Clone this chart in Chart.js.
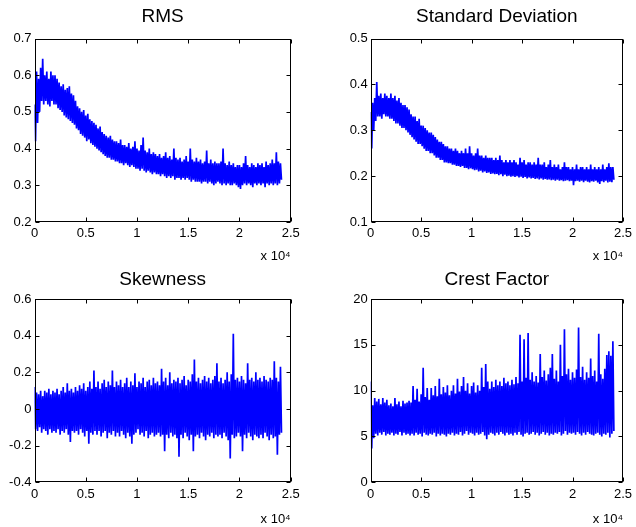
<!DOCTYPE html>
<html lang="en">
<head>
<meta charset="UTF-8">
<title>RMS / Standard Deviation / Skewness / Crest Factor</title>
<script src="https://cdn.jsdelivr.net/npm/chart.js"></script>
<style>
  body { margin: 0; background: #fff; }
  .fig { position: relative; width: 636px; height: 527px; }
  .fig canvas { position: absolute; }
</style>
</head>
<body>
<div class="fig">
  <canvas id="c-rms"  width="318" height="264" style="left:0;top:0"></canvas>
  <canvas id="c-std"  width="318" height="264" style="left:318px;top:0"></canvas>
  <canvas id="c-skew" width="318" height="263" style="left:0;top:264px"></canvas>
  <canvas id="c-crest" width="318" height="263" style="left:318px;top:264px"></canvas>
</div>
<script>
// sample spacing: each pair is (upper value at i*STEP, lower value at i*STEP + STEP/2)
const STEP = 200;
const xTicksLabel = 'x 10\u2074';

// RMS
const rmsHi = [0.52, 0.61, 0.59, 0.62, 0.645, 0.60, 0.61, 0.59, 0.61, 0.60,
  0.60, 0.59, 0.58, 0.57, 0.575, 0.56, 0.565, 0.57, 0.55, 0.545,
  0.53, 0.515, 0.51, 0.50, 0.505, 0.49, 0.495, 0.48, 0.475, 0.47,
  0.465, 0.455, 0.46, 0.445, 0.44, 0.435, 0.43, 0.435, 0.425, 0.42,
  0.42, 0.415, 0.425, 0.41, 0.41, 0.405, 0.415, 0.40, 0.405, 0.42,
  0.40, 0.395, 0.41, 0.43, 0.395, 0.39, 0.40, 0.385, 0.39, 0.385,
  0.38, 0.385, 0.375, 0.38, 0.39, 0.375, 0.38, 0.37, 0.40, 0.375,
  0.37, 0.375, 0.365, 0.37, 0.38, 0.365, 0.40, 0.37, 0.365, 0.375,
  0.365, 0.37, 0.36, 0.365, 0.395, 0.36, 0.37, 0.36, 0.365, 0.36,
  0.36, 0.365, 0.40, 0.36, 0.355, 0.365, 0.355, 0.36, 0.35, 0.355,
  0.355, 0.35, 0.36, 0.38, 0.355, 0.35, 0.36, 0.355, 0.35, 0.36,
  0.355, 0.36, 0.35, 0.365, 0.355, 0.36, 0.37, 0.36, 0.39, 0.365, 0.36];
const rmsLo = [0.42, 0.47, 0.50, 0.53, 0.52, 0.53, 0.52, 0.515, 0.53, 0.52,
  0.52, 0.51, 0.505, 0.50, 0.49, 0.485, 0.48, 0.475, 0.47, 0.465,
  0.455, 0.45, 0.44, 0.435, 0.43, 0.42, 0.425, 0.415, 0.41, 0.405,
  0.40, 0.395, 0.39, 0.385, 0.38, 0.375, 0.375, 0.37, 0.37, 0.365,
  0.365, 0.36, 0.36, 0.355, 0.36, 0.355, 0.35, 0.355, 0.35, 0.345,
  0.345, 0.34, 0.345, 0.34, 0.335, 0.34, 0.335, 0.33, 0.335, 0.33,
  0.33, 0.325, 0.33, 0.325, 0.32, 0.325, 0.32, 0.325, 0.315, 0.32,
  0.32, 0.315, 0.32, 0.315, 0.32, 0.315, 0.31, 0.315, 0.31, 0.31,
  0.31, 0.305, 0.31, 0.31, 0.305, 0.31, 0.305, 0.30, 0.305, 0.31,
  0.305, 0.30, 0.305, 0.30, 0.305, 0.30, 0.30, 0.305, 0.30, 0.295,
  0.29, 0.30, 0.305, 0.30, 0.305, 0.30, 0.295, 0.305, 0.30, 0.305,
  0.30, 0.305, 0.295, 0.305, 0.30, 0.305, 0.30, 0.305, 0.30, 0.305, 0.315];

// Standard Deviation
const stdHi = [0.34, 0.36, 0.37, 0.405, 0.375, 0.38, 0.37, 0.38, 0.375, 0.37,
  0.38, 0.37, 0.375, 0.365, 0.37, 0.36, 0.355, 0.355, 0.35, 0.345,
  0.335, 0.33, 0.33, 0.32, 0.325, 0.31, 0.31, 0.305, 0.30, 0.295,
  0.295, 0.29, 0.285, 0.28, 0.275, 0.275, 0.27, 0.265, 0.265, 0.26,
  0.26, 0.255, 0.26, 0.255, 0.25, 0.255, 0.25, 0.26, 0.25, 0.265,
  0.25, 0.245, 0.25, 0.26, 0.245, 0.245, 0.24, 0.245, 0.24, 0.24,
  0.24, 0.235, 0.24, 0.235, 0.245, 0.235, 0.23, 0.235, 0.23, 0.235,
  0.23, 0.235, 0.23, 0.225, 0.24, 0.23, 0.235, 0.225, 0.23, 0.23,
  0.225, 0.23, 0.225, 0.24, 0.225, 0.225, 0.23, 0.22, 0.225, 0.235,
  0.22, 0.225, 0.22, 0.225, 0.215, 0.22, 0.23, 0.22, 0.22, 0.215,
  0.22, 0.215, 0.225, 0.215, 0.22, 0.22, 0.215, 0.22, 0.215, 0.225,
  0.215, 0.22, 0.215, 0.22, 0.215, 0.225, 0.215, 0.22, 0.228, 0.22, 0.22];
const stdLo = [0.26, 0.30, 0.32, 0.33, 0.33, 0.325, 0.335, 0.33, 0.33, 0.325,
  0.325, 0.32, 0.315, 0.315, 0.31, 0.305, 0.305, 0.30, 0.295, 0.29,
  0.285, 0.28, 0.275, 0.27, 0.27, 0.265, 0.26, 0.255, 0.255, 0.25,
  0.25, 0.245, 0.24, 0.24, 0.235, 0.235, 0.23, 0.23, 0.228, 0.228,
  0.225, 0.225, 0.222, 0.222, 0.22, 0.222, 0.218, 0.218, 0.215, 0.217,
  0.215, 0.213, 0.214, 0.21, 0.212, 0.208, 0.21, 0.207, 0.208, 0.205,
  0.206, 0.204, 0.205, 0.202, 0.204, 0.2, 0.203, 0.2, 0.201, 0.199,
  0.2, 0.198, 0.2, 0.197, 0.199, 0.196, 0.198, 0.195, 0.197, 0.195,
  0.196, 0.194, 0.195, 0.193, 0.195, 0.192, 0.194, 0.192, 0.193, 0.191,
  0.192, 0.19, 0.192, 0.19, 0.191, 0.189, 0.19, 0.191, 0.189, 0.19,
  0.18, 0.189, 0.19, 0.188, 0.19, 0.187, 0.19, 0.188, 0.186, 0.189,
  0.188, 0.19, 0.186, 0.183, 0.189, 0.187, 0.19, 0.186, 0.188, 0.187, 0.192];

// Skewness
const skewHi = [0.12, 0.09, 0.08, 0.10, 0.07, 0.10, 0.09, 0.11, 0.08, 0.10,
  0.09, 0.11, 0.08, 0.10, 0.12, 0.09, 0.14, 0.10, 0.11, 0.09,
  0.12, 0.10, 0.13, 0.11, 0.14, 0.10, 0.12, 0.15, 0.11, 0.21,
  0.12, 0.15, 0.11, 0.14, 0.16, 0.12, 0.15, 0.13, 0.21, 0.12,
  0.15, 0.13, 0.16, 0.12, 0.14, 0.17, 0.12, 0.15, 0.13, 0.195,
  0.12, 0.15, 0.14, 0.17, 0.12, 0.15, 0.16, 0.13, 0.17, 0.14,
  0.15, 0.13, 0.22, 0.15, 0.17, 0.13, 0.20, 0.14, 0.16, 0.15,
  0.17, 0.14, 0.16, 0.18, 0.13, 0.16, 0.15, 0.19, 0.27, 0.15,
  0.17, 0.14, 0.16, 0.18, 0.15, 0.17, 0.14, 0.16, 0.18, 0.25,
  0.15, 0.17, 0.14, 0.16, 0.20, 0.15, 0.19, 0.41, 0.16, 0.17,
  0.15, 0.18, 0.16, 0.14, 0.25, 0.16, 0.17, 0.15, 0.20, 0.16,
  0.17, 0.15, 0.18, 0.16, 0.15, 0.17, 0.16, 0.26, 0.17, 0.15, 0.23];
const skewLo = [-0.11, -0.12, -0.10, -0.13, -0.11, -0.12, -0.14, -0.11, -0.13, -0.12,
  -0.13, -0.11, -0.14, -0.12, -0.13, -0.11, -0.14, -0.18, -0.12, -0.13,
  -0.12, -0.14, -0.11, -0.13, -0.15, -0.12, -0.19, -0.13, -0.14, -0.12,
  -0.14, -0.12, -0.15, -0.13, -0.12, -0.16, -0.13, -0.14, -0.12, -0.15,
  -0.13, -0.15, -0.12, -0.14, -0.16, -0.13, -0.15, -0.19, -0.14, -0.13,
  -0.11, -0.14, -0.13, -0.15, -0.12, -0.16, -0.14, -0.13, -0.15, -0.14,
  -0.13, -0.15, -0.14, -0.23, -0.14, -0.16, -0.13, -0.15, -0.14, -0.16,
  -0.26, -0.14, -0.16, -0.13, -0.15, -0.17, -0.14, -0.23, -0.15, -0.14,
  -0.16, -0.13, -0.15, -0.17, -0.14, -0.15, -0.13, -0.16, -0.14, -0.15,
  -0.14, -0.16, -0.13, -0.15, -0.17, -0.27, -0.14, -0.16, -0.15, -0.13,
  -0.15, -0.23, -0.14, -0.16, -0.13, -0.15, -0.17, -0.14, -0.15, -0.16,
  -0.14, -0.16, -0.13, -0.15, -0.17, -0.14, -0.16, -0.15, -0.25, -0.14, -0.13];

// Crest Factor
const crestHi = [11.0, 8.4, 9.2, 8.8, 9.1, 8.5, 9.2, 8.7, 9.0, 8.4,
  8.6, 8.3, 9.2, 8.5, 8.8, 8.3, 8.9, 8.6, 8.7, 8.9,
  8.7, 10.5, 9.0, 10.2, 8.8, 9.6, 12.5, 9.3, 10.3, 9.0,
  10.3, 9.5, 10.5, 9.4, 11.3, 9.6, 10.4, 9.8, 10.6, 9.5,
  10.0, 10.6, 9.7, 11.3, 9.9, 10.5, 11.5, 10.0, 10.8, 9.7,
  10.5, 10.9, 9.8, 10.6, 10.0, 12.5, 10.4, 12.9, 11.0, 10.2,
  11.0, 10.4, 11.2, 10.6, 11.0, 10.5, 11.4, 10.8, 11.0, 10.6,
  11.2, 10.7, 11.5, 10.8, 16.1, 11.0, 15.6, 11.4, 16.3, 11.2,
  12.0, 11.0, 11.6, 10.9, 14.0, 11.5, 12.2, 11.1, 11.8, 12.5,
  14.0, 11.3, 12.2, 11.0, 15.0, 11.6, 16.7, 11.8, 12.4, 11.2,
  12.0, 11.4, 12.3, 16.9, 11.5, 12.6, 11.2, 12.0, 11.4, 13.5,
  11.6, 12.2, 11.0, 16.2, 11.8, 11.3, 12.4, 13.9, 14.3, 13.8, 15.4];
const crestLo = [3.7, 4.8, 5.3, 5.1, 5.4, 5.2, 5.5, 5.1, 5.3, 5.2,
  5.4, 5.1, 5.3, 5.2, 5.5, 5.1, 5.4, 5.2, 5.3, 5.1,
  5.3, 5.1, 5.4, 5.2, 5.3, 5.0, 5.4, 5.2, 5.1, 5.3,
  5.2, 5.4, 5.0, 5.3, 5.1, 5.3, 5.2, 5.0, 5.3, 5.2,
  5.4, 5.1, 5.3, 5.2, 5.5, 5.1, 5.3, 5.6, 5.2, 5.4,
  5.3, 5.1, 5.4, 5.2, 5.3, 5.5, 5.1, 4.7, 5.2, 5.4,
  5.3, 5.1, 5.4, 5.2, 5.5, 5.3, 5.1, 5.4, 5.2, 5.3,
  5.1, 5.4, 5.2, 5.5, 5.2, 5.0, 5.3, 5.4, 5.2, 5.3,
  5.5, 5.2, 5.4, 5.1, 5.3, 5.5, 5.2, 5.4, 5.1, 5.3,
  5.2, 5.4, 5.3, 5.5, 5.1, 5.3, 5.6, 5.2, 5.4, 5.3,
  5.4, 5.2, 5.5, 5.3, 5.1, 5.4, 5.2, 5.5, 5.3, 5.2,
  5.1, 5.3, 5.4, 5.2, 5.0, 5.3, 5.2, 5.4, 4.9, 5.3, 5.6];

Chart.defaults.font.family = '"Liberation Sans", Arial, Helvetica, sans-serif';
Chart.defaults.color = '#000';

// interleave upper/lower values into one trace
function trace(hi, lo) {
  const pts = [];
  for (let i = 0; i < hi.length; i++) {
    pts.push({ x: i * STEP, y: hi[i] });
    pts.push({ x: i * STEP + STEP / 2, y: lo[i] });
  }
  return pts;
}

// MATLAB style box with inward ticks on all four sides
const matlabBox = {
  id: 'matlabBox',
  afterDatasetsDraw(chart) {
    const { ctx, chartArea: a, scales: { x, y } } = chart;
    const L = Math.round(a.left) + 0.5, R = Math.round(a.right) - 0.5;
    const T = Math.round(a.top) + 0.5, B = Math.round(a.bottom) - 0.5;
    ctx.save();
    ctx.strokeStyle = '#000';
    ctx.lineWidth = 1;
    ctx.strokeRect(L, T, R - L, B - T);
    ctx.beginPath();
    x.ticks.forEach(t => {
      const px = Math.round(x.getPixelForValue(t.value)) + 0.5;
      ctx.moveTo(px, B); ctx.lineTo(px, B - 4);
      ctx.moveTo(px, T); ctx.lineTo(px, T + 4);
    });
    y.ticks.forEach(t => {
      const py = Math.round(y.getPixelForValue(t.value)) + 0.5;
      ctx.moveTo(L, py); ctx.lineTo(L + 4, py);
      ctx.moveTo(R, py); ctx.lineTo(R - 4, py);
    });
    ctx.stroke();
    ctx.restore();
  }
};

function yLabel(v) {
  if (Math.abs(v) < 1e-9) return '0';
  return Number.isInteger(Math.round(v * 1e6) / 1e6) ? String(Math.round(v)) : v.toFixed(1);
}

function makePanel(id, cfg) {
  new Chart(document.getElementById(id), {
    type: 'line',
    data: {
      datasets: [{
        data: trace(cfg.hi, cfg.lo),
        borderColor: '#0000ff',
        borderWidth: 1.7,
        pointRadius: 0,
        tension: 0,
        fill: false
      }]
    },
    options: {
      responsive: false,
      animation: false,
      layout: { padding: { left: 0, right: cfg.padRight, top: 0, bottom: 0 } },
      plugins: {
        legend: { display: false },
        tooltip: { enabled: false },
        title: {
          display: true,
          text: cfg.title,
          fullSize: false,
          color: '#000',
          font: { size: 19, weight: 'normal' },
          padding: cfg.titlePad
        }
      },
      scales: {
        x: {
          type: 'linear',
          min: 0, max: 25000,
          afterFit: s => { s.height = cfg.xHeight; },
          grid: { display: false, drawTicks: false },
          border: { display: false },
          ticks: {
            stepSize: 5000, padding: 4, maxRotation: 0, autoSkip: false,
            font: { size: 13 },
            callback: v => String(v / 10000)
          },
          title: {
            display: true, text: xTicksLabel, align: 'end',
            font: { size: 13, lineHeight: 1 },
            padding: { top: 0, bottom: cfg.expPad }
          }
        },
        y: {
          min: cfg.yMin, max: cfg.yMax,
          afterFit: s => { s.width = cfg.yWidth; },
          grid: { display: false, drawTicks: false },
          border: { display: false },
          ticks: { stepSize: cfg.yStep, padding: 3, font: { size: 13 }, callback: yLabel }
        }
      }
    },
    plugins: [matlabBox]
  });
}

makePanel('c-rms', {
  title: 'RMS', hi: rmsHi, lo: rmsLo,
  yMin: 0.2, yMax: 0.7, yStep: 0.1,
  yWidth: 34.5, padRight: 27.3, xHeight: 42,
  titlePad: { top: 5.6, bottom: 10.1 }, expPad: 1
});
makePanel('c-std', {
  title: 'Standard Deviation', hi: stdHi, lo: stdLo,
  yMin: 0.1, yMax: 0.5, yStep: 0.1,
  yWidth: 52.7, padRight: 8.7, xHeight: 42,
  titlePad: { top: 5.6, bottom: 10.1 }, expPad: 1
});
makePanel('c-skew', {
  title: 'Skewness', hi: skewHi, lo: skewLo,
  yMin: -0.4, yMax: 0.6, yStep: 0.2,
  yWidth: 34.5, padRight: 27.3, xHeight: 44.7,
  titlePad: { top: 4.4, bottom: 7.8 }, expPad: 1.5
});
makePanel('c-crest', {
  title: 'Crest Factor', hi: crestHi, lo: crestLo,
  yMin: 0, yMax: 20, yStep: 5,
  yWidth: 52.7, padRight: 8.7, xHeight: 44.7,
  titlePad: { top: 4.4, bottom: 7.8 }, expPad: 1.5
});
</script>
</body>
</html>
